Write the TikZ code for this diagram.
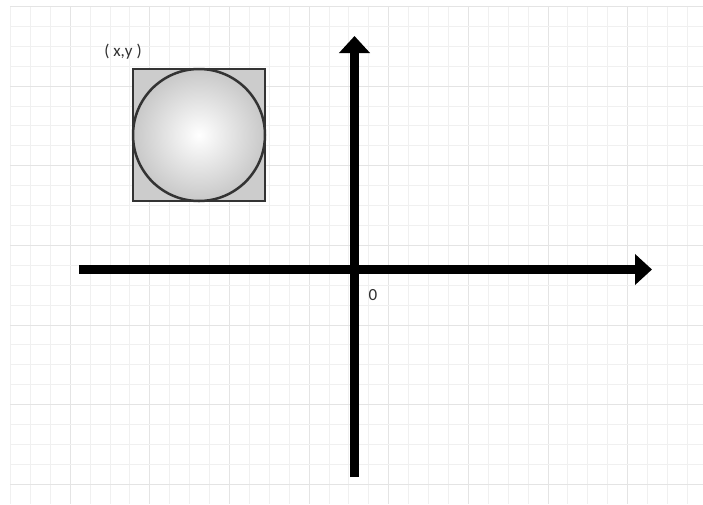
\documentclass[tikz,border=0pt]{standalone}
\usepackage{fontspec}
\setmainfont{Carlito}
\usetikzlibrary{arrows.meta}
\definecolor{gridminor}{HTML}{F0F0F0}
\definecolor{gridmajor}{HTML}{E4E4E4}
\definecolor{boxfill}{HTML}{CCCCCC}
\definecolor{boxline}{HTML}{333333}
\definecolor{txt}{HTML}{303030}
\tikzset{
  minorline/.style={draw=gridminor,line width=1pt},
  majorline/.style={draw=gridmajor,line width=1pt},
  axis/.style={line width=9pt,draw=black,-{Triangle[length=17pt,width=30pt]}},
  label/.style={text=txt,font=\fontsize{17}{19}\selectfont,inner sep=0pt},
}
\begin{document}
\begin{tikzpicture}[x=1pt,y=-1pt]
\useasboundingbox (0,0) rectangle (703,504);
\fill[white] (0,0) rectangle (703,504);
% grid
\foreach \k in {0,...,34}{
  \pgfmathsetmacro{\xx}{10.5+19.91*\k}
  \pgfmathtruncatemacro{\m}{mod(\k,4)}
  \ifnum\m=3
    \draw[majorline] (\xx,6) -- (\xx,504);
  \else
    \draw[minorline] (\xx,6) -- (\xx,504);
  \fi
}
\foreach \k in {0,...,24}{
  \pgfmathsetmacro{\yy}{6.5+19.91*\k}
  \pgfmathtruncatemacro{\m}{mod(\k,4)}
  \ifnum\m=0
    \draw[majorline] (10,\yy) -- (703,\yy);
  \else
    \draw[minorline] (10,\yy) -- (703,\yy);
  \fi
}
% axes
\coordinate (xl) at (79,269.5);
\coordinate (xr) at (652,269.5);
\coordinate (yb) at (354.5,477);
\coordinate (yt) at (354.5,36);
\draw[axis] (xl) -- (xr);
\draw[axis] (yb) -- (yt);
% box with ball
\node[draw=boxline,fill=boxfill,line width=2pt,minimum size=132pt,inner sep=0pt] (box) at (199,135) {};
\node[circle,draw=boxline,line width=2.5pt,minimum size=132pt,inner sep=0pt,
  inner color=white,outer color=boxfill!95!black!90] (ball) at (box.center) {};
% labels
\node[label] (xy) at (123,52) {( x,y )};
\node[label] (zero) at (373,295) {0};
\end{tikzpicture}
\end{document}
